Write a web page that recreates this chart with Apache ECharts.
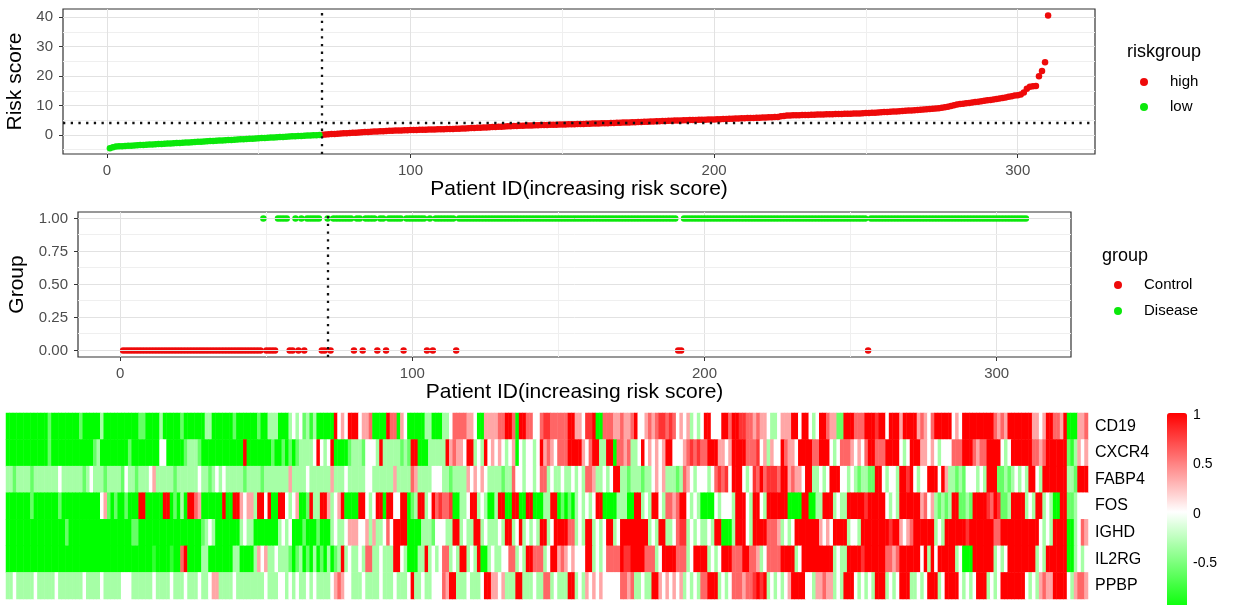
<!DOCTYPE html>
<html>
<head>
<meta charset="utf-8">
<title>Risk score</title>
<script src="https://cdn.jsdelivr.net/npm/echarts@6/dist/echarts.min.js"></script>
<style>
	html, body { margin: 0; padding: 0; background: #fff; }
	#main { width: 1233px; height: 605px; }
</style>
</head>
<body>
<div id="main"></div>
<script>
/**
 * 数据
 */
// 风险评分(按评分升序排列, 310个病人)
var riskScore = [
	-4.55, -4.21, -3.98, -3.90, -3.84, -3.77, -3.70, -3.66, -3.60, -3.53,
	-3.47, -3.41, -3.37, -3.31, -3.24, -3.18, -3.13, -3.07, -3.01, -2.95,
	-2.90, -2.84, -2.78, -2.72, -2.66, -2.60, -2.55, -2.49, -2.43, -2.37,
	-2.30, -2.24, -2.18, -2.12, -2.06, -2.00, -1.94, -1.88, -1.82, -1.76,
	-1.70, -1.64, -1.58, -1.52, -1.46, -1.40, -1.34, -1.28, -1.22, -1.16,
	-1.10, -1.04, -0.98, -0.92, -0.86, -0.80, -0.74, -0.68, -0.62, -0.56,
	-0.50, -0.45, -0.40, -0.34, -0.29, -0.24, -0.19, -0.14, -0.09, -0.04,
	0.05, 0.12, 0.20, 0.26, 0.33, 0.40, 0.46, 0.52, 0.58, 0.64,
	0.70, 0.76, 0.82, 0.88, 0.95, 1.01, 1.06, 1.12, 1.17, 1.22,
	1.27, 1.32, 1.37, 1.42, 1.46, 1.50, 1.53, 1.56, 1.59, 1.62,
	1.65, 1.68, 1.71, 1.74, 1.77, 1.80, 1.83, 1.86, 1.89, 1.92,
	1.95, 1.98, 2.01, 2.04, 2.07, 2.10, 2.15, 2.20, 2.25, 2.30,
	2.35, 2.40, 2.45, 2.50, 2.55, 2.60, 2.65, 2.70, 2.75, 2.80,
	2.85, 2.90, 2.95, 3.00, 3.05, 3.09, 3.13, 3.17, 3.20, 3.23,
	3.26, 3.29, 3.32, 3.35, 3.38, 3.41, 3.44, 3.47, 3.50, 3.53,
	3.56, 3.59, 3.62, 3.65, 3.68, 3.71, 3.74, 3.77, 3.80, 3.83,
	3.86, 3.89, 3.92, 3.95, 3.98, 4.01, 4.05, 4.09, 4.13, 4.17,
	4.21, 4.25, 4.29, 4.33, 4.37, 4.41, 4.45, 4.49, 4.53, 4.57,
	4.61, 4.65, 4.69, 4.73, 4.77, 4.81, 4.85, 4.89, 4.93, 4.97,
	5.00, 5.03, 5.06, 5.09, 5.12, 5.15, 5.18, 5.21, 5.24, 5.27,
	5.30, 5.34, 5.38, 5.42, 5.46, 5.50, 5.54, 5.58, 5.62, 5.66,
	5.70, 5.74, 5.78, 5.82, 5.86, 5.90, 5.94, 5.98, 6.02, 6.06,
	6.12, 6.30, 6.45, 6.55, 6.60, 6.64, 6.68, 6.71, 6.74, 6.77,
	6.80, 6.83, 6.86, 6.89, 6.92, 6.95, 6.98, 7.01, 7.04, 7.07,
	7.10, 7.13, 7.16, 7.19, 7.22, 7.25, 7.28, 7.31, 7.35, 7.40,
	7.45, 7.50, 7.56, 7.62, 7.68, 7.74, 7.80, 7.86, 7.92, 7.98,
	8.05, 8.12, 8.19, 8.26, 8.33, 8.40, 8.48, 8.56, 8.64, 8.72,
	8.80, 8.88, 8.96, 9.05, 9.20, 9.40, 9.60, 9.85, 10.10, 10.35,
	10.50, 10.62, 10.74, 10.86, 11.00, 11.15, 11.30, 11.45, 11.60, 11.75,
	11.90, 12.05, 12.20, 12.35, 12.55, 12.75, 12.95, 13.15, 13.35, 13.50,
	13.70, 14.40, 15.70, 16.40, 16.50, 16.60, 19.90, 21.70, 24.70, 40.60
];
var lowCount = 70;          // 前70个为低风险
var riskCutoff = 4.0;       // 水平虚线
var splitPatient = 70.9;    // 垂直虚线

// 分组: 0=Control, 1=Disease (每段10个病人)
var groupFlags = [
	'0000000000', '0000000000', '0000000000', '0000000000', '0000000010',
	'0001111001', '0101111100', '1011111110', '1101111011', '0111110111',
	'1111010111', '1111011111', '1111111111', '1111111111', '1111111111',
	'1111111111', '1111111111', '1111111111', '1111111111', '0011111111',
	'1111111111', '1111111111', '1111111111', '1111111111', '1111111111',
	'1111101111', '1111111111', '1111111111', '1111111111', '1111111111',
	'1111111111'
];

// 热图: 基因
var geneNames = ['CD19', 'CXCR4', 'FABP4', 'FOS', 'IGHD', 'IL2RG', 'PPBP'];
// 颜色等级 0..8 -> 表达值
var levelValues = [-1, -0.8, -0.6, -0.35, 0, 0.35, 0.6, 0.8, 1];
var rowCD19 = ['0000000000', '0020000000', '0200000300', '0000000022', '0000300000', '2000000330', '0000020000', '0020033300', '0343423130', '0000845488', '8455600008', '6605400000', '3300033466', '6655400555', '5668860886', '6446776666', '6885547780', '0666556556', '8445656776', '7645453434', '8844488688', '7766565543', '3455588488', '4348865522', '8886668887', '8848885888', '8565468888', '8454888888', '8886565888', '8888554588', '6658000556'];
var rowCXCR4 = ['0000000000', '0020000000', '0000023000', '0000020000', '0000440000', '0233320000', '0000000080', '0000002002', '0202333348', '4348000023', '3324443833', '3332328800', '0333338565', '5488343845', '4543450434', '4348565466', '6888854688', '3388066563', '3484545458', '8444567676', '6888554588', '8866674535', '4486554888', '8668884346', '6654546886', '6688884348', '8855454344', '4666888656', '6888843488', '8888665688', '8888213545'];
var rowFABP4 = ['3323333233', '3333343333', '3323433323', '3332433233', '3453333323', '3333343323', '4343333323', '3332333333', '3533334333', '3335333433', '3334433333', '3533336533', '3344433233', '3354545433', '3323364434', '4346634334', '3343436653', '3434883323', '3323345453', '3323654344', '4346767488', '8434768677', '7688565548', '8334348884', '4343233228', '8434438878', '4344888485', '3323244434', '3888223234', '3438843888', '8888332888'];
var rowFOS = ['0000000200', '0000020000', '0000000452', '0200200088', '0000088020', '3088650000', '0080088545', '5388480088', '4345002833', '8853458000', '0884348808', '8448802388', '3486766700', '3348834300', '3880088008', '8000338802', '0203434348', '8000033300', '8834388436', '6568843430', '0004344438', '8843884388', '8888000088', '0033888343', '3888887888', '8843438888', '8856453232', '3882232888', '8768722388', '8834388343', '0088223444'];
var rowIGHD = ['0000000000', '0000000200', '0000000000', '0000002200', '0000000000', '0000002343', '0000000343', '3000000034', '3400020002', '0003433455', '5445353346', '4888800003', '3324443388', '3433883433', '3438834834', '3438834888', '8663438834', '3488348888', '8888343883', '3467734343', '3438800038', '8843888866', '6534348888', '8885454888', '8344388888', '8887885456', '8888883438', '8888878888', '8886688888', '8888884343', '8888003465'];
var rowIL2RG = ['0000000000', '0000000000', '0000000000', '0000000000', '0010000100', '6800003300', '0000033000', '0354533433', '3202302030', '2030238343', '3436633433', '3884300033', '8343466343', '8834380034', '3344663438', '8666348856', '5454448834', '3466668778', '8886663488', '8866634888', '8343488866', '6886653466', '6688883488', '8888888343', '3888878888', '8866568888', '8848384888', '8834000888', '8883434888', '8888834388', '8888003434'];
var rowPPBP = ['3343333343', '3333433333', '3343333433', '3334443333', '3343333433', '3433343345', '5333343333', '3333433344', '3434334343', '3334565443', '3343333433', '3433348334', '3344465883', '3343334885', '5453338833', '3433663433', '3883435454', '5444446656', '3343388545', '4545343436', '6888343466', '6566787834', '3434588884', '4355655343', '8884343438', '8834348883', '3434888348', '8884343488', '8343488888', '8843435655', '8888435665'];

var colorRed = '#ee0a0a';
var colorGreen = '#0be80b';
var fontName = '"Liberation Sans", Arial, sans-serif';

/**
 * 1.风险评分散点
 */
var highData = [];
var lowData = [];
for (var i = 0; i < riskScore.length; i++) {
	if (i < lowCount) {
		lowData.push([i + 1, riskScore[i]]);
	} else {
		highData.push([i + 1, riskScore[i]]);
	}
}

/**
 * 2.分组散点
 */
var flags = groupFlags.join('');
var controlData = [];
var diseaseData = [];
for (var k = 0; k < flags.length; k++) {
	if (flags.charAt(k) === '0') {
		controlData.push([k + 1, 0]);
	} else {
		diseaseData.push([k + 1, 1]);
	}
}

/**
 * 3.热图
 */
var heatRows = [rowCD19, rowCXCR4, rowFABP4, rowFOS, rowIGHD, rowIL2RG, rowPPBP];
var heatData = [];
var patientIds = [];
for (var p = 0; p < riskScore.length; p++) {
	patientIds.push(String(p + 1));
}
for (var r = 0; r < heatRows.length; r++) {
	var s = heatRows[r].join('');
	for (var c = 0; c < s.length; c++) {
		heatData.push([c, r, levelValues[+s.charAt(c)]]);
	}
}

// 中间图的水平网格线(主/次)
var groupGridLines = [0, 0.125, 0.25, 0.375, 0.5, 0.625, 0.75, 0.875, 1];
var groupGridData = [];
for (var g = 0; g < groupGridLines.length; g++) {
	groupGridData.push({
		yAxis: groupGridLines[g],
		lineStyle: {color: g % 2 === 0 ? '#e2e2e2' : '#efefef', width: 1, type: 'solid'}
	});
}

var tickLabel = {color: '#4d4d4d', fontSize: 15, fontFamily: fontName};
var axisName = {color: '#000', fontSize: 21, fontFamily: fontName};
var majorLine = {show: true, lineStyle: {color: '#e2e2e2', width: 1}};
var minorLine = {show: true, lineStyle: {color: '#efefef', width: 1}};
var dotted = {color: '#111', width: 2.3, type: [2.3, 5.4]};

var chart = echarts.init(document.getElementById('main'), null, {renderer: 'canvas'});
var option = {
	animation: false,
	backgroundColor: '#fff',
	textStyle: {fontFamily: fontName},
	title: [
		{text: 'riskgroup', left: 1127, top: 43, padding: 0, textStyle: {fontSize: 18, fontWeight: 'normal', color: '#000', fontFamily: fontName}},
		{text: 'group', left: 1102, top: 247, padding: 0, textStyle: {fontSize: 18, fontWeight: 'normal', color: '#000', fontFamily: fontName}}
	],
	legend: [
		{
			data: ['high', 'low'], left: 1140, top: 74, orient: 'vertical', padding: 0,
			icon: 'circle', itemWidth: 42, itemHeight: 8, itemGap: 9, selectedMode: false,
			textStyle: {fontSize: 15, color: '#000', lineHeight: 16, fontFamily: fontName}
		},
		{
			data: ['Control', 'Disease'], left: 1114, top: 277, orient: 'vertical', padding: 0,
			icon: 'circle', itemWidth: 42, itemHeight: 8, itemGap: 10, selectedMode: false,
			textStyle: {fontSize: 15, color: '#000', lineHeight: 16, fontFamily: fontName}
		}
	],
	grid: [
		{left: 63, top: 9, width: 1032, height: 145, show: true, borderColor: '#333', borderWidth: 1.2, backgroundColor: 'transparent', outerBoundsMode: 'none'},
		{left: 78, top: 212, width: 993, height: 145, show: true, borderColor: '#333', borderWidth: 1.2, backgroundColor: 'transparent', outerBoundsMode: 'none'},
		{left: 6, top: 413, width: 1082, height: 186, outerBoundsMode: 'none'},
		{left: 1167, top: 415, width: 20, height: 198, outerBoundsMode: 'none'}
	],
	xAxis: [
		{
			gridIndex: 0, type: 'value', min: -14.45, max: 325.45, splitNumber: 3,
			name: 'Patient ID(increasing risk score)', nameLocation: 'middle', nameGap: 23, nameTextStyle: axisName,
			axisLine: {show: false, onZero: false},
			axisTick: {show: true, length: 4, lineStyle: {color: '#333'}, customValues: [0, 100, 200, 300]},
			axisLabel: Object.assign({margin: 9, customValues: [0, 100, 200, 300]}, tickLabel),
			splitLine: majorLine,
			minorTick: {show: false, splitNumber: 2},
			minorSplitLine: minorLine
		},
		{
			gridIndex: 1, type: 'value', min: -14.45, max: 325.45, splitNumber: 3,
			name: 'Patient ID(increasing risk score)', nameLocation: 'middle', nameGap: 23, nameTextStyle: axisName,
			axisLine: {show: false, onZero: false},
			axisTick: {show: true, length: 4, lineStyle: {color: '#333'}, customValues: [0, 100, 200, 300]},
			axisLabel: Object.assign({margin: 9, customValues: [0, 100, 200, 300]}, tickLabel),
			splitLine: majorLine,
			minorTick: {show: false, splitNumber: 2},
			minorSplitLine: minorLine
		},
		{gridIndex: 2, type: 'category', data: patientIds, show: false},
		{gridIndex: 3, type: 'value', min: 0, max: 1, show: false}
	],
	yAxis: [
		{
			gridIndex: 0, type: 'value', min: -6.5, max: 42.8, splitNumber: 5,
			name: 'Risk score', nameLocation: 'middle', nameGap: 35, nameTextStyle: axisName,
			axisLine: {show: false, onZero: false},
			axisTick: {show: true, length: 4, lineStyle: {color: '#333'}, customValues: [0, 10, 20, 30, 40]},
			axisLabel: Object.assign({margin: 10, customValues: [0, 10, 20, 30, 40]}, tickLabel),
			splitLine: majorLine,
			minorTick: {show: false, splitNumber: 2},
			minorSplitLine: minorLine
		},
		{
			gridIndex: 1, type: 'value', min: -0.05, max: 1.05,
			name: 'Group', nameLocation: 'middle', nameGap: 50, nameTextStyle: axisName,
			axisLine: {show: false, onZero: false},
			axisTick: {show: true, length: 4, lineStyle: {color: '#333'}, customValues: [0, 0.25, 0.5, 0.75, 1]},
			axisLabel: Object.assign({
				margin: 10, customValues: [0, 0.25, 0.5, 0.75, 1],
				formatter: function (v) { return v.toFixed(2); }
			}, tickLabel),
			splitLine: {show: false}
		},
		{
			gridIndex: 2, type: 'category', data: geneNames, inverse: true, position: 'right',
			axisLine: {show: false}, axisTick: {show: false}, splitLine: {show: false},
			axisLabel: {margin: 7, color: '#000', fontSize: 16, fontFamily: fontName}
		},
		{
			gridIndex: 3, type: 'value', min: -1, max: 1, interval: 0.5, position: 'right',
			axisLine: {show: false}, axisTick: {show: false}, splitLine: {show: false},
			axisLabel: {margin: 6, color: '#000', fontSize: 14, fontFamily: fontName}
		}
	],
	visualMap: {
		type: 'continuous', seriesIndex: 5, min: -1, max: 1, calculable: false, hoverLink: false,
		left: 1167, top: 413, itemWidth: 20, itemHeight: 198, padding: 0, text: null,
		inRange: {color: ['#00ff00', '#ffffff', '#ff0000']}
	},
	series: [
		{
			// 中间图网格线
			type: 'scatter', name: 'grid', xAxisIndex: 1, yAxisIndex: 1, data: [], z: 1, silent: true,
			markLine: {silent: true, symbol: ['none', 'none'], label: {show: false}, animation: false, data: groupGridData}
		},
		{
			type: 'scatter', name: 'high', xAxisIndex: 0, yAxisIndex: 0, data: highData,
			symbolSize: 6.5, itemStyle: {color: colorRed, opacity: 1}
		},
		{
			type: 'scatter', name: 'low', xAxisIndex: 0, yAxisIndex: 0, data: lowData,
			symbolSize: 6.5, itemStyle: {color: colorGreen, opacity: 1},
			markLine: {
				silent: true, symbol: ['none', 'none'], label: {show: false}, animation: false, lineStyle: dotted,
				data: [{xAxis: splitPatient}, {yAxis: riskCutoff}]
			}
		},
		{
			type: 'scatter', name: 'Control', xAxisIndex: 1, yAxisIndex: 1, data: controlData,
			symbolSize: 6.5, itemStyle: {color: colorRed, opacity: 1}
		},
		{
			type: 'scatter', name: 'Disease', xAxisIndex: 1, yAxisIndex: 1, data: diseaseData,
			symbolSize: 6.5, itemStyle: {color: colorGreen, opacity: 1},
			markLine: {
				silent: true, symbol: ['none', 'none'], label: {show: false}, animation: false, lineStyle: dotted,
				data: [{xAxis: splitPatient}]
			}
		},
		{
			type: 'heatmap', name: 'expr', xAxisIndex: 2, yAxisIndex: 2, data: heatData,
			emphasis: {disabled: true}, progressive: 0
		}
	]
};
chart.setOption(option);
</script>
</body>
</html>
